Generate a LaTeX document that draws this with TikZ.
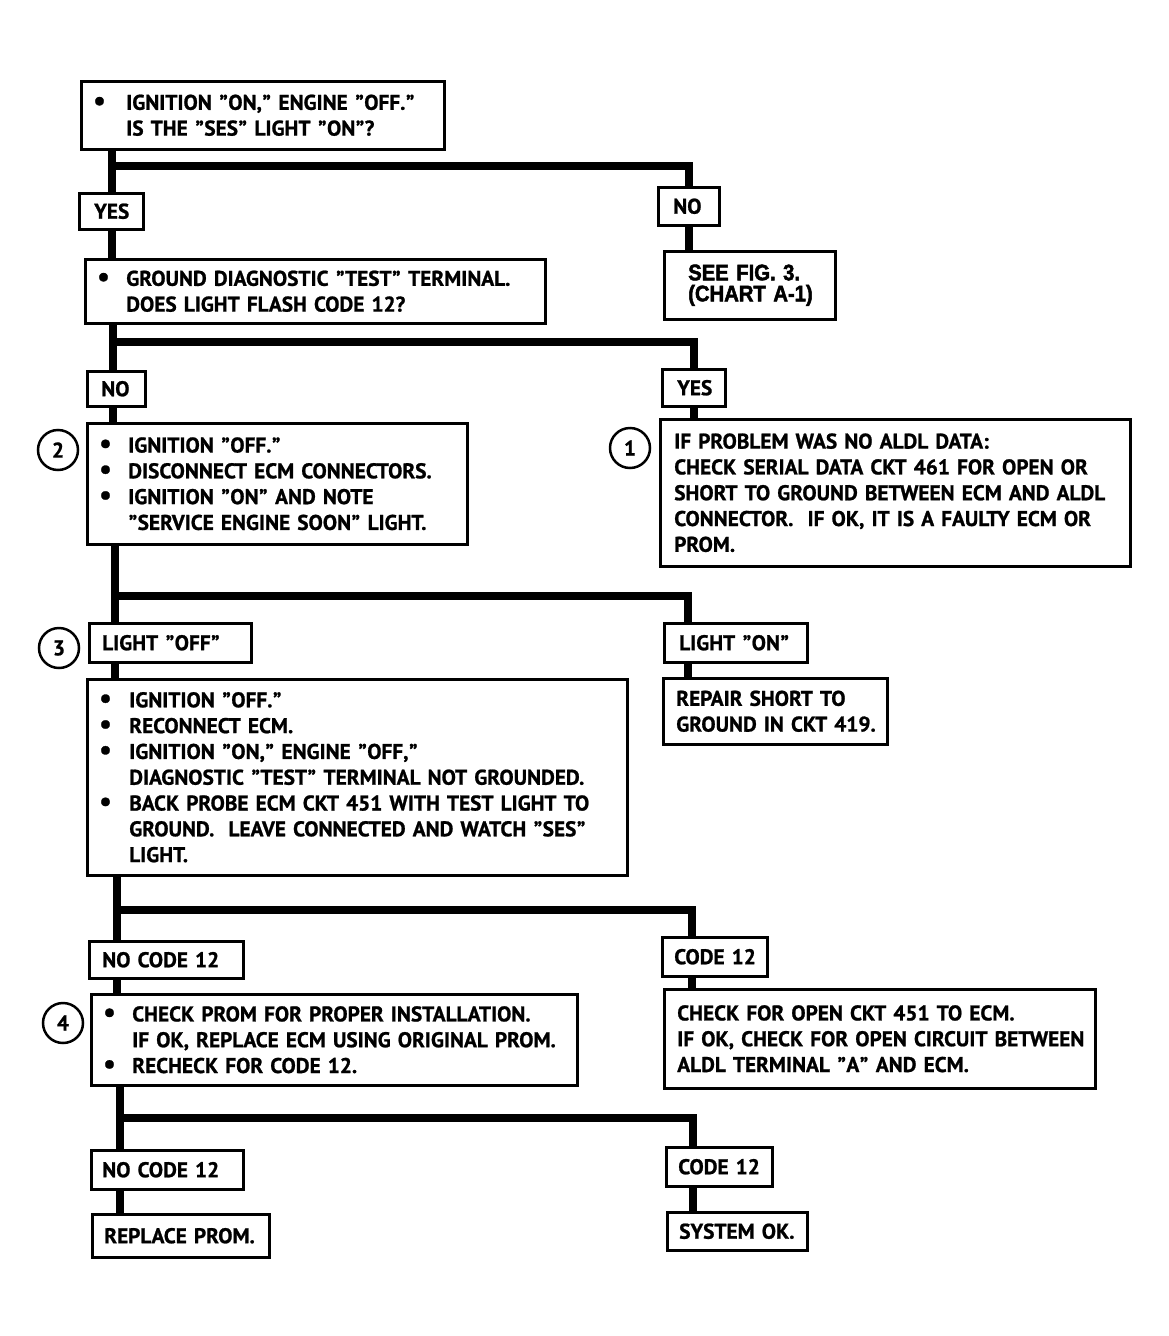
\documentclass[tikz,border=0pt]{standalone}
\usepackage{fontspec}
\newfontfamily\chartfont{PT Sans}[UprightFont={* Bold}, FakeBold=1.0]
\newfontfamily\figfont{Liberation Sans}[UprightFont={* Bold}, FakeBold=2.2, FakeStretch=0.9]
\newcommand\bl[1]{\makebox[#1pt][l]{\scalebox{1.3}{\textbullet}}}
\newcommand\ind[1]{\hspace*{#1pt}}
\newcommand\q{\kern0.5pt”\kern0.5pt}
\begin{document}
\begin{tikzpicture}[x=1pt,y=-1pt,
  cfont/.style={font=\chartfont\fontsize{21.3}{25.8}\selectfont},
  cbox/.style={draw, line width=2.5pt, anchor=north west, inner xsep=#1pt,
    inner ysep=0pt, align=left, cfont},
  circ/.style={circle, draw, line width=2.5pt, minimum size=40pt, inner sep=0pt, cfont},
  trunk/.style={line width=8pt, line join=miter}]
\useasboundingbox (0,0) rectangle (1169,1336);

% ---------- boxes ----------
\node[cbox=12, minimum width=363pt, minimum height=68pt, text width=339pt] (A) at (80,80)
 {\mbox{\bl{33}IGNITION \q ON,\q\ ENGINE \q OFF.\q}\\\mbox{\ind{33}IS THE \q SES\q\ LIGHT \q ON\q?}};
\node[cbox=15, minimum width=64pt, minimum height=36pt, text width=34pt] (yes1) at (78,192) {YES};
\node[cbox=15, minimum width=61pt, minimum height=38pt, text width=31pt] (no1) at (657,186) {NO};
\node[cbox=12, minimum width=460pt, minimum height=64pt, text width=436pt] (B) at (84,258)
 {\mbox{\bl{29}GROUND DIAGNOSTIC \q TEST\q\ TERMINAL.}\\\mbox{\ind{29}DOES LIGHT FLASH CODE 12?}};
\node[cbox=24, minimum width=171pt, minimum height=68pt, text width=123pt,
  font=\figfont\fontsize{22.5}{21}\selectfont] (fig) at (663,250)
 {\mbox{SEE FIG. 3.}\\\mbox{(CHART A-1)}};
\node[cbox=14, minimum width=58pt, minimum height=35pt, text width=30pt] (no2) at (86,370) {NO};
\node[cbox=15, minimum width=63pt, minimum height=37pt, text width=33pt] (yes2) at (661,368) {YES};
\node[cbox=12, minimum width=380pt, minimum height=121pt, text width=356pt] (C) at (86,422)
 {\mbox{\bl{29}IGNITION \q OFF.\q}\\\mbox{\bl{29}DISCONNECT ECM CONNECTORS.}\\
  \mbox{\bl{29}IGNITION \q ON\q\ AND NOTE}\\\mbox{\ind{29}\q SERVICE ENGINE SOON\q\ LIGHT.}};
\node[cbox=14, minimum width=470pt, minimum height=147pt, text width=442pt] (D) at (659,418)
 {\mbox{IF PROBLEM WAS NO ALDL DATA:}\\\mbox{CHECK SERIAL DATA CKT 461 FOR OPEN OR}\\
  \mbox{SHORT TO GROUND BETWEEN ECM AND ALDL}\\\mbox{CONNECTOR.\ \ IF OK, IT IS A FAULTY ECM OR}\\
  \mbox{PROM.}};
\node[cbox=13, minimum width=162pt, minimum height=39pt, text width=136pt] (off) at (88,622) {\mbox{LIGHT \q OFF\q}};
\node[cbox=15, minimum width=143pt, minimum height=39pt, text width=113pt] (on) at (663,622) {\mbox{LIGHT \q ON\q}};
\node[cbox=12, minimum width=540pt, minimum height=196pt, text width=516pt] (F) at (86,678)
 {\mbox{\bl{30}IGNITION \q OFF.\q}\\\mbox{\bl{30}RECONNECT ECM.}\\
  \mbox{\bl{30}IGNITION \q ON,\q\ ENGINE \q OFF,\q}\\\mbox{\ind{30}DIAGNOSTIC \q TEST\q\ TERMINAL NOT GROUNDED.}\\
  \mbox{\bl{30}BACK PROBE ECM CKT 451 WITH TEST LIGHT TO}\\
  \mbox{\ind{30}GROUND.\ \ LEAVE CONNECTED AND WATCH \q SES\q}\\\mbox{\ind{30}LIGHT.}};
\node[cbox=13, minimum width=224pt, minimum height=66pt, text width=198pt] (G) at (662,677)
 {\mbox{REPAIR SHORT TO}\\\mbox{GROUND IN CKT 419.}};
\node[cbox=13, minimum width=154pt, minimum height=37pt, text width=128pt] (nc1) at (88,940) {\mbox{NO CODE 12}};
\node[cbox=12, minimum width=105pt, minimum height=39pt, text width=81pt] (c1) at (661,936) {\mbox{CODE 12}};
\node[cbox=12, minimum width=486pt, minimum height=91pt, text width=462pt] (H) at (90,993)
 {\mbox{\bl{29}CHECK PROM FOR PROPER INSTALLATION.}\\\mbox{\ind{29}IF OK, REPLACE ECM USING ORIGINAL PROM.}\\
  \mbox{\bl{29}RECHECK FOR CODE 12.}};
\node[cbox=13, minimum width=431pt, minimum height=99pt, text width=405pt] (I) at (663,988)
 {\mbox{CHECK FOR OPEN CKT 451 TO ECM.}\\\mbox{IF OK, CHECK FOR OPEN CIRCUIT BETWEEN}\\
  \mbox{ALDL TERMINAL \q A\q\ AND ECM.}};
\node[cbox=11, minimum width=152pt, minimum height=39pt, text width=130pt] (nc2) at (90,1149) {\mbox{NO CODE 12}};
\node[cbox=12, minimum width=106pt, minimum height=39pt, text width=82pt] (c2) at (665,1146) {\mbox{CODE 12}};
\node[cbox=12, minimum width=177pt, minimum height=43pt, text width=153pt] (rp) at (91,1213) {\mbox{REPLACE PROM.}};
\node[cbox=12, minimum width=140pt, minimum height=38pt, text width=116pt] (ok) at (666,1211) {\mbox{SYSTEM OK.}};

% ---------- step numbers ----------
\node[circ] (n2) at (58,450) {2};
\node[circ] (n1) at (630,448) {1};
\node[circ] (n3) at (59,648) {3};
\node[circ] (n4) at (63,1023) {4};

% ---------- junctions ----------
\coordinate (j1) at (112,166);
\coordinate (j2) at (113,342);
\coordinate (j3) at (115,596);
\coordinate (j4) at (117,910);
\coordinate (j5) at (120,1118);

% ---------- connectors ----------
\draw[trunk] (A.south -| j1) -- (yes1.north -| j1);
\draw[trunk] (j1) -| (no1.north);
\draw[trunk] (yes1.south -| j1) -- (B.north -| j1);
\draw[trunk] (no1.south) -- (fig.north -| no1.south);

\draw[trunk] (B.south -| j2) -- (no2.north -| j2);
\draw[trunk] (j2) -| (yes2.north);
\draw[trunk] (no2.south -| j2) -- (C.north -| j2);
\draw[trunk] (yes2.south) -- (D.north -| yes2.south);

\draw[trunk] (C.south -| j3) -- (off.north -| j3);
\draw[trunk] (j3) -| (on.north -| 688,0);
\draw[trunk] (off.south -| j3) -- (F.north -| j3);
\draw[trunk] (on.south -| 688,0) -- (G.north -| 688,0);

\draw[trunk] (F.south -| j4) -- (nc1.north -| j4);
\draw[trunk] (j4) -| (c1.north -| 692,0);
\draw[trunk] (nc1.south -| j4) -- (H.north -| j4);
\draw[trunk] (c1.south -| 692,0) -- (I.north -| 692,0);

\draw[trunk] (H.south -| j5) -- (nc2.north -| j5);
\draw[trunk] (j5) -| (c2.north -| 693,0);
\draw[trunk] (nc2.south -| j5) -- (rp.north -| j5);
\draw[trunk] (c2.south -| 693,0) -- (ok.north -| 693,0);
\end{tikzpicture}
\end{document}
